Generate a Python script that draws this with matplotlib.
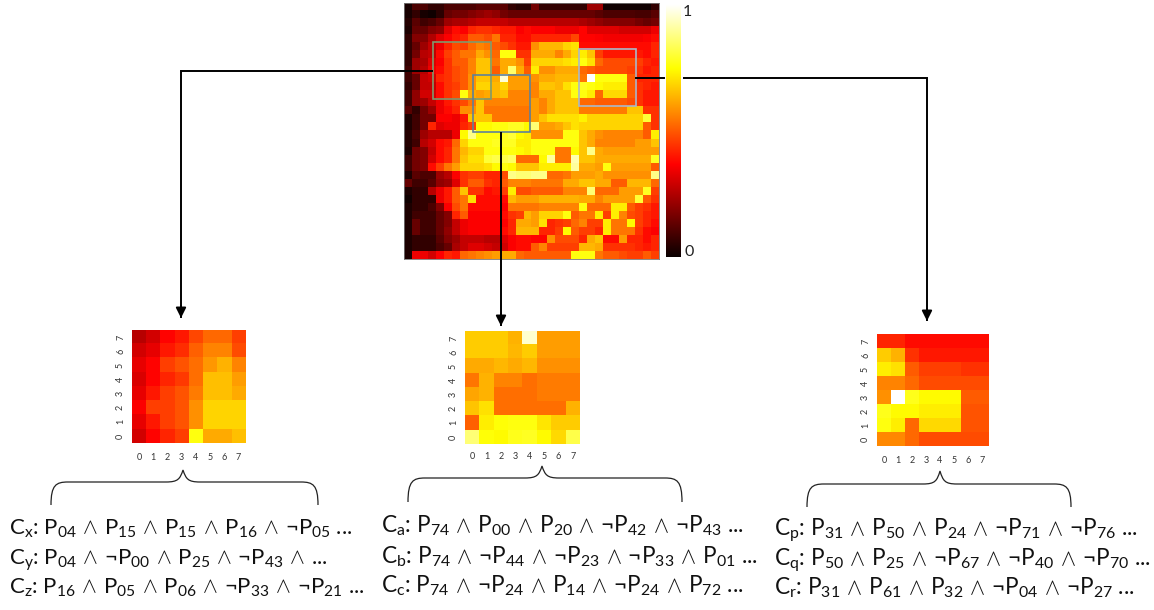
import numpy as np
import matplotlib
matplotlib.use("Agg")
import matplotlib.pyplot as plt
from matplotlib.path import Path
from matplotlib.patches import PathPatch, Rectangle

plt.rcParams['font.family'] = ['Lato', 'DejaVu Sans']
plt.rcParams['mathtext.fontset'] = 'custom'
plt.rcParams['mathtext.rm'] = 'Lato'
plt.rcParams['mathtext.it'] = 'Lato'
plt.rcParams['mathtext.bf'] = 'Lato'

W, H = 1154, 610

# big map, hundredths of the colour scale, top row first
big_map = [
    [2,10,10,6,6,10,10,10,10,12,12,12,12,6,4,4, 16,6,6,6,6,6,6,22,22,1,1,1,1,1,1,6],
    [2,6,2,1,5,14,16,16,18,20,22,20,16,14,14,14, 14,14,14,14,14,14,14,14,12,10,10,10,10,9,9,12],
    [4,12,8,10,14,22,24,24,26,28,28,28,28,26,26,26, 26,26,26,26,26,26,24,22,20,18,18,18,18,16,14,16],
    [3,14,14,18,20,32,38,36,42,44,44,42,40,40,36,38, 36,36,36,34,34,34,37,32,32,32,32,30,30,30,30,34],
    [6,18,18,25,32,36,40,42,50,50,48,54,42,42,38,38, 42,42,42,42,42,47,37,37,36,35,35,35,35,35,36,38],
    [6,14,22,28,34,42,48,46,52,56,54,50,48,44,40,40, 58,64,64,64,68,70,38,38,38,38,38,38,38,38,38,42],
    [6,16,26,28,38,46,50,54,54,62,58,52,76,76,44,44, 62,62,62,56,62,68,72,66,46,40,40,40,40,40,38,42],
    [6,22,24,32,36,44,50,50,56,66,66,54,62,62,58,46, 68,68,68,68,70,72,76,70,52,48,48,48,48,46,42,40],
    [8,22,26,34,38,44,48,50,56,66,66,50,62,85,62,50, 72,58,58,62,62,62,52,50,48,48,48,48,46,44,40,42],
    [8,14,28,30,42,44,48,50,58,66,66,62,96,60,60,60, 58,62,62,64,64,64,54,100,76,76,76,76,50,42,42,42],
    [6,14,28,28,38,44,46,50,58,68,68,64,68,60,60,60, 56,66,66,64,70,76,78,76,74,72,72,72,50,44,42,40],
    [8,20,30,30,38,44,48,76,62,60,62,64,66,56,56,56, 56,62,62,66,66,76,76,72,52,69,69,69,50,44,40,40],
    [8,20,22,28,34,40,44,48,54,66,56,56,56,56,56,56, 60,56,62,66,66,66,52,52,50,50,50,50,48,44,40,40],
    [12,6,16,22,34,38,42,58,58,66,54,54,54,54,54,54, 60,56,62,66,66,66,55,55,55,55,55,55,66,66,44,44],
    [3,8,16,16,36,36,34,40,66,66,66,54,54,54,54,54, 60,66,70,70,70,70,73,68,68,68,68,68,68,68,80,44],
    [3,8,16,42,32,34,34,42,46,74,74,76,76,78,78,74, 86,60,60,62,66,70,68,68,68,68,68,68,68,68,50,44],
    [4,10,22,26,26,26,34,74,88,76,76,76,78,80,74,72, 58,58,58,58,76,76,66,62,58,56,56,56,56,56,50,72],
    [4,8,26,30,38,40,52,68,76,76,76,78,78,78,72,72, 76,76,76,76,76,76,66,62,56,56,56,56,56,60,60,66],
    [3,16,18,28,38,42,54,64,68,68,76,76,76,76,74,72, 76,76,76,54,54,74,66,88,62,60,60,60,60,60,60,60],
    [8,16,18,30,38,42,54,66,70,70,80,82,82,84,52,52, 52,74,90,54,54,92,66,66,62,62,62,62,62,62,62,78],
    [8,16,18,38,46,54,60,68,68,68,70,74,76,74,66,66, 66,72,72,72,72,90,62,62,60,76,60,60,60,60,60,50],
    [3,12,10,10,22,26,36,44,46,46,42,42,48,88,86,86, 88,88,52,52,54,60,60,60,62,58,58,58,58,58,58,88],
    [14,8,8,12,20,22,32,44,50,50,44,42,50,56,56,56, 54,54,54,54,62,62,66,66,62,62,50,50,64,64,64,52],
    [3,6,6,26,34,40,50,66,44,44,38,40,46,72,48,48, 50,50,50,50,56,56,56,86,52,52,52,60,60,60,78,46],
    [1,6,6,6,34,40,50,54,70,38,38,38,38,64,60,60, 60,63,63,63,63,63,62,62,56,60,60,60,60,80,50,44],
    [3,6,6,10,18,36,48,54,38,38,38,38,36,54,54,54, 54,56,56,56,56,56,76,52,52,52,72,72,50,46,44,40],
    [3,8,8,8,14,18,42,50,36,36,36,36,38,44,46,64, 60,68,68,68,76,50,54,54,72,46,72,56,48,46,42,40],
    [3,14,8,8,14,18,28,34,36,36,36,36,36,42,62,62, 60,70,42,44,46,52,56,46,46,72,54,54,74,46,42,38],
    [3,14,8,8,14,20,28,34,36,36,36,36,38,42,64,64, 64,42,42,46,74,50,46,46,42,72,54,54,54,44,38,36],
    [3,6,6,6,12,18,22,28,28,28,26,26,32,36,38,38, 37,37,58,48,48,48,42,62,66,38,38,60,42,42,38,42],
    [3,6,6,6,10,14,24,28,32,32,30,28,30,36,38,38, 50,56,46,46,46,46,64,64,62,44,44,44,44,42,40,42],
    [3,34,34,30,36,42,40,52,54,56,58,60,62,62,52,50, 50,50,50,50,50,76,76,76,54,50,50,48,46,46,50,46],
]

# small maps, rows listed from label 7 down to label 0
left_map = [
    [26,30,37,40,47,52,52,46],
    [30,33,40,43,51,56,56,48],
    [33,37,46,49,53,59,63,56],
    [31,37,42,45,53,65,65,60],
    [33,40,46,49,55,65,65,62],
    [36,46,46,49,58,68,68,68],
    [33,40,46,49,58,68,68,68],
    [30,37,42,46,76,62,62,65],
]
mid_map = [
    [67,67,67,63,95,60,60,60],
    [67,67,67,64,67,60,60,60],
    [62,62,64,62,64,58,58,58],
    [54,63,56,56,53,55,55,55],
    [61,63,53,53,53,55,55,55],
    [66,70,53,53,53,53,53,63],
    [51,72,75,76,76,71,67,67],
    [86,75,74,77,78,74,69,82],
]
right_map = [
    [42,42,38,38,38,38,38,38],
    [67,63,44,40,40,40,40,40],
    [72,70,50,46,46,46,44,44],
    [56,56,52,48,48,48,48,48],
    [58,100,77,74,74,74,50,50],
    [77,74,74,72,72,72,49,49],
    [76,72,52,69,69,69,49,49],
    [57,57,52,48,48,48,48,48],
]
tick_labels = ['0', '1', '2', '3', '4', '5', '6', '7']

AND = r'$\,\wedge\,$'
NOT = r'$\neg$'


def clause(name, terms):
    # terms like '04' or '-04' for a negated one
    parts = []
    for t in terms:
        if t.startswith('-'):
            parts.append(NOT + 'P$_{' + t[1:] + '}$')
        else:
            parts.append('P$_{' + t + '}$')
    return 'C$_{' + name + '}$: ' + AND.join(parts)


left_lines = [
    clause('x', ['04', '15', '15', '16', '-05']) + ' ...',
    clause('y', ['04', '-00', '25', '-43']) + AND + '...',
    clause('z', ['16', '05', '06', '-33', '-21']) + ' ...',
]
mid_lines = [
    clause('a', ['74', '00', '20', '-42', '-43']) + ' ...',
    clause('b', ['74', '-44', '-23', '-33', '01']) + ' ...',
    clause('c', ['74', '-24', '14', '-24', '72']) + ' ...',
]
right_lines = [
    clause('p', ['31', '50', '24', '-71', '-76']) + ' ...',
    clause('q', ['50', '25', '-67', '-40', '-70']) + ' ...',
    clause('r', ['31', '61', '32', '-04', '-27']) + ' ...',
]


def px_axes(fig, x0, y0, x1, y1):
    # axes from pixel box, y counted from the top
    return fig.add_axes([x0 / W, 1 - y1 / H, (x1 - x0) / W, (y1 - y0) / H])


def small_map(fig, vals, box, xpad, ypad):
    ax = px_axes(fig, *box)
    ax.imshow(np.array(vals) / 100, cmap='hot', vmin=0, vmax=1, aspect='auto',
              extent=[-0.5, 7.5, -0.5, 7.5], origin='upper')
    ax.set_xticks(range(8), tick_labels, fontsize=6.5, color='#333333')
    ax.set_yticks(range(8), tick_labels, fontsize=6.5, color='#333333', rotation=90, va='center')
    ax.tick_params(length=0)
    ax.tick_params(axis='x', pad=xpad)
    ax.tick_params(axis='y', pad=ypad)
    for s in ax.spines.values():
        s.set_visible(False)


def brace(ov, x0, xm, x1, ytop, ybot, ypeak):
    r = 17
    verts = [(x0, ybot), (x0, ytop + 3), (x0 + 5, ytop), (x0 + r, ytop),
             (xm - r, ytop), (xm - 5, ytop), (xm - 3, ytop - 3), (xm, ypeak),
             (xm + 3, ytop - 3), (xm + 5, ytop), (xm + r, ytop),
             (x1 - r, ytop), (x1 - 5, ytop), (x1, ytop + 3), (x1, ybot)]
    codes = [Path.MOVETO, Path.CURVE4, Path.CURVE4, Path.CURVE4,
             Path.LINETO, Path.CURVE4, Path.CURVE4, Path.CURVE4,
             Path.CURVE4, Path.CURVE4, Path.CURVE4,
             Path.LINETO, Path.CURVE4, Path.CURVE4, Path.CURVE4]
    ov.add_patch(PathPatch(Path(verts, codes), fc='none', ec='#222222', lw=0.9))


def arrow(ov, pts):
    xs = [p[0] for p in pts]
    ys = [p[1] for p in pts]
    ov.plot(xs, ys, color='black', lw=1.4, solid_capstyle='butt', solid_joinstyle='miter')
    ov.annotate('', xy=pts[-1], xytext=(pts[-1][0], pts[-1][1] - 12),
                arrowprops=dict(arrowstyle='-|>', color='black', lw=1.4, mutation_scale=15,
                                shrinkA=0, shrinkB=0))


fig = plt.figure(figsize=(W / 100, H / 100), dpi=100)

ax = px_axes(fig, 404, 3, 659, 259)
ax.imshow(np.array(big_map) / 100, cmap='hot', vmin=0, vmax=1, aspect='auto', interpolation='nearest')
ax.set_xticks([])
ax.set_yticks([])
for s in ax.spines.values():
    s.set_color('#777777')
    s.set_linewidth(0.6)

cax = px_axes(fig, 666, 4, 681, 257)
cax.imshow(np.linspace(1, 0, 256).reshape(-1, 1), cmap='hot', vmin=0, vmax=1, aspect='auto')
cax.axis('off')

small_map(fig, left_map, (132, 330, 245, 443), 7, 5)
small_map(fig, mid_map, (465, 331, 580, 444), 6, 5)
small_map(fig, right_map, (877, 334, 989, 446), 7, 5)

ov = fig.add_axes([0, 0, 1, 1], zorder=5)
ov.set_xlim(0, W)
ov.set_ylim(H, 0)
ov.axis('off')
ov.patch.set_alpha(0)

# selection boxes over the big map
ov.add_patch(Rectangle((433, 42), 58, 57, fc='none', ec='#7f9a6e', lw=1.2))
ov.add_patch(Rectangle((579, 49), 57, 57, fc='none', ec='#a9b9c9', lw=1.2))
ov.add_patch(Rectangle((473, 75), 57, 57, fc='none', ec='#5f8199', lw=1.2))

arrow(ov, [(433, 71), (181, 71), (181, 318)])
arrow(ov, [(501, 132), (501, 326)])
ov.plot([636, 664], [78, 78], color='black', lw=1.4)
arrow(ov, [(683, 78), (927, 78), (927, 321)])

ov.text(687, 12, '1', fontsize=11.5, color='#222222', ha='center', va='center')
ov.text(689, 252, '0', fontsize=11.5, color='#222222', ha='center', va='center')

brace(ov, 51, 183, 318, 482, 505, 470)
brace(ov, 408, 542, 682, 478, 502, 466)
brace(ov, 807, 940, 1071, 484, 507, 471)

for lines, x, ys, size in [(left_lines, 9, (535, 565, 594), 16),
                           (mid_lines, 381, (532, 563, 592), 16.3),
                           (right_lines, 774, (535, 565, 594), 16.3)]:
    for line, y in zip(lines, ys):
        ov.text(x, y, line, fontsize=size, color='#111111', ha='left', va='baseline')

fig.savefig('out.png', dpi=100)
